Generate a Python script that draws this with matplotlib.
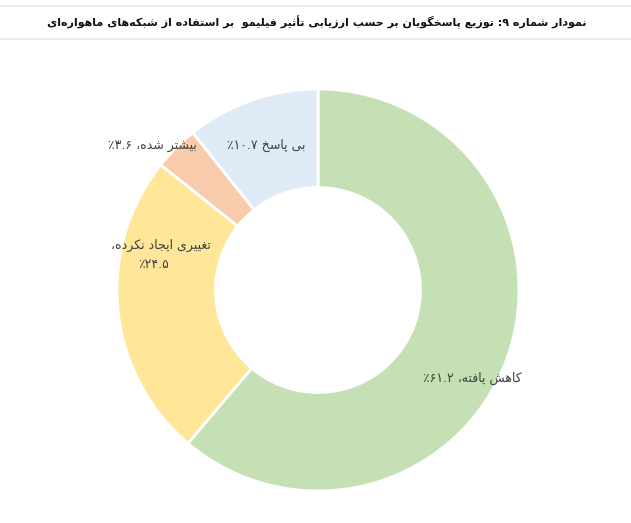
import re
import matplotlib
import matplotlib.pyplot as plt
from matplotlib import font_manager
from matplotlib.ft2font import FT2Font

matplotlib.use("agg")

# data
categories = ["کاهش یافته", "تغییری ایجاد نکرده", "بیشتر شده", "بی پاسخ"]
percents = [61.2, 24.5, 3.6, 10.7]
colors = ["#C5E0B4", "#FFE699", "#F8CBAD", "#DEEBF7"]
title = "نمودار شماره ۹: توزیع پاسخگویان بر حسب ارزیابی تأثیر فیلیمو  بر استفاده از شبکه\u200cهای ماهواره\u200cای"

# presentation forms: isolated, final, initial, medial
DUAL = {'ب': 0xFE8F, 'ت': 0xFE95, 'ث': 0xFE99, 'ج': 0xFE9D, 'ح': 0xFEA1, 'خ': 0xFEA5,
        'س': 0xFEB1, 'ش': 0xFEB5, 'ص': 0xFEB9, 'ض': 0xFEBD, 'ط': 0xFEC1, 'ظ': 0xFEC5,
        'ع': 0xFEC9, 'غ': 0xFECD, 'ف': 0xFED1, 'ق': 0xFED5, 'ل': 0xFEDD, 'م': 0xFEE1,
        'ن': 0xFEE5, 'ه': 0xFEE9, 'ئ': 0xFE89, 'پ': 0xFB56, 'چ': 0xFB7A, 'ک': 0xFB8E,
        'گ': 0xFB92, 'ی': 0xFBFC}
RIGHT = {'ا': 0xFE8D, 'آ': 0xFE81, 'أ': 0xFE83, 'د': 0xFEA9, 'ذ': 0xFEAB, 'ر': 0xFEAD,
         'ز': 0xFEAF, 'و': 0xFEED, 'ژ': 0xFB8A}
FA_DIGITS = "۰۱۲۳۴۵۶۷۸۹"


def has_glyphs(family, weight="normal"):
    path = font_manager.findfont(font_manager.FontProperties(family=family, weight=weight))
    font = FT2Font(path)
    return lambda cp: font.get_char_index(cp) != 0


def shape(text, ok):
    """
    join arabic letters into contextual forms, then put the line in visual order
    """
    out = []
    for i, ch in enumerate(text):
        if ch in DUAL or ch in RIGHT:
            prev = i > 0 and text[i - 1] in DUAL
            nxt = ch in DUAL and i + 1 < len(text) and (text[i + 1] in DUAL or text[i + 1] in RIGHT)
            base = DUAL.get(ch, RIGHT.get(ch))
            if prev and nxt:
                cp = base + 3
            elif prev:
                cp = base + 1
            elif nxt:
                cp = base + 2
            else:
                cp = base
            out.append(chr(cp) if ok(cp) else ch)
        elif ch == "\u200c":
            continue
        else:
            out.append(ch)
    s = "".join(out)
    # digit runs stay left to right, the rest is reversed
    runs = re.findall(r"[0-9۰-۹][0-9۰-۹.]*|[^0-9۰-۹]+", s)
    vis = [r if r[0].isdigit() else r[::-1] for r in runs]
    return "".join(vis[::-1])


def fa_num(v):
    return "".join(FA_DIGITS[int(c)] if c.isdigit() else c for c in f"{v:.1f}")


ok_reg = has_glyphs("DejaVu Sans")
ok_bold = has_glyphs("DejaVu Sans", "bold")

fig = plt.figure(figsize=(6.31, 5.23), dpi=100)
W, H = 631, 523

# light rules above and below the title
for y in (6, 39):
    fig.add_artist(plt.Line2D([0, 1], [1 - y / H, 1 - y / H], color="#E6E6E6", lw=1.2))
t = fig.text(317 / W, 1 - 22 / H, shape(title, ok_bold), ha="center", va="center",
             fontsize=10, fontweight="bold", family="DejaVu Sans", color="#111111")
# shrink the title so it spans about 545 px like the reference
rend = fig.canvas.get_renderer()
tw = t.get_window_extent(renderer=rend).width
t.set_fontsize(10 * 545 / tw)

# donut, centre (318, 290) px, radius 201 px
cx, cy, r = 318, 290, 201
ax = fig.add_axes([(cx - r) / W, (H - cy - r) / H, 2 * r / W, 2 * r / H])
ax.pie(percents, colors=colors, startangle=90, counterclock=False, radius=1,
       wedgeprops=dict(width=0.49, edgecolor="white", linewidth=2))
ax.set_xlim(-1, 1)
ax.set_ylim(-1, 1)
ax.axis("off")

lbl = dict(ha="center", va="center", fontsize=9, color="#404040", family="DejaVu Sans")
ax.text(0.766, -0.438, shape(f"{categories[0]}، {fa_num(percents[0])}٪", ok_reg), **lbl)
ax.text(-0.781, 0.224, shape(f"{categories[1]}،", ok_reg), **lbl)
ax.text(-0.816, 0.129, shape(f"{fa_num(percents[1])}٪", ok_reg), **lbl)
ax.text(-0.826, 0.721, shape(f"{categories[2]}، {fa_num(percents[2])}٪", ok_reg), **lbl)
ax.text(-0.259, 0.721, shape(f"{categories[3]} {fa_num(percents[3])}٪", ok_reg), **lbl)

plt.savefig("out.png", dpi=100)
plt.close(fig)
